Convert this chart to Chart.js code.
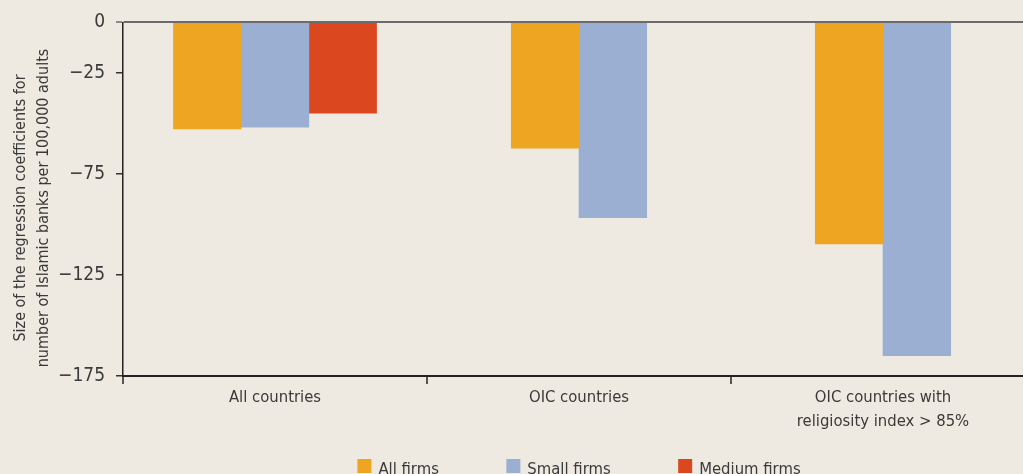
<!DOCTYPE html>
<html>
<head>
<meta charset="utf-8">
<script src="https://cdn.jsdelivr.net/npm/chart.js@4/dist/chart.umd.min.js"></script>
<style>
  html, body { margin: 0; padding: 0; background: #EEEAE1; overflow: hidden; }
  #wrap { position: absolute; left: 0; top: 0; width: 1040px; height: 474px; }
</style>
</head>
<body>
<div id="wrap"><canvas id="c"></canvas></div>
<script>
// ---- data ----
const categories = ['All countries', 'OIC countries', ['OIC countries with', 'religiosity index > 85%']];
const seriesNames = ['All firms', 'Small firms', 'Medium firms'];
const allFirms = [-52.7, -62.2, -109.6];
const smallFirms = [-51.8, -96.7, -164.9];
const mediumFirms = [-44.9, null, null];
const yTicks = [0, -25, -75, -125, -175];
const yTickLabels = ['0', '\u221225', '\u221275', '\u2212125', '\u2212175'];
const yTitle = ['Size of the regression coefficients for', 'number of Islamic banks per 100,000 adults'];

const FONT = "'DejaVu Sans Condensed', 'Liberation Sans Narrow', 'Roboto', sans-serif";
const TEXT = '#3a3a3a';
Chart.defaults.font.family = FONT;
Chart.defaults.color = TEXT;

const overlay = {
  id: 'overlay',
  afterDraw(chart) {
    const ctx = chart.ctx;
    const ca = chart.chartArea;
    ctx.save();
    // y-axis title
    ctx.fillStyle = TEXT;
    ctx.font = "16px " + FONT;
    ctx.textAlign = 'center';
    ctx.textBaseline = 'alphabetic';
    const cy = 208;
    const baselines = [25, 48];
    yTitle.forEach((line, i) => {
      ctx.save();
      ctx.translate(baselines[i], cy);
      ctx.rotate(-Math.PI / 2);
      ctx.fillText(line, 0, 0);
      ctx.restore();
    });
    // legend
    ctx.font = "16.5px " + FONT;
    const ds = chart.data.datasets;
    const box = 14, gapText = 7, gapItem = 67.5;
    const widths = ds.map(d => ctx.measureText(d.label).width);
    let total = 0;
    widths.forEach((w, i) => { total += box + gapText + w + (i < widths.length - 1 ? gapItem : 0); });
    let x = (ca.left + ca.right) / 2 - total / 2;
    ctx.textAlign = 'left';
    ds.forEach((d, i) => {
      ctx.fillStyle = d.backgroundColor;
      ctx.fillRect(x, 459, box, box);
      x += box + gapText;
      ctx.fillStyle = TEXT;
      ctx.fillText(d.label, x, 474);
      x += widths[i] + gapItem;
    });
    ctx.restore();
  }
};

new Chart(document.getElementById('c'), {
  type: 'bar',
  data: {
    labels: categories,
    datasets: [
      { label: seriesNames[0], data: allFirms, backgroundColor: '#EEA521' },
      { label: seriesNames[1], data: smallFirms, backgroundColor: '#9AAFD1' },
      { label: seriesNames[2], data: mediumFirms, backgroundColor: '#DB471F' }
    ]
  },
  options: {
    responsive: true,
    maintainAspectRatio: false,
    animation: false,
    skipNull: true,
    barThickness: 67.7,
    layout: { padding: { top: 22, right: 5, left: 0, bottom: 0 } },
    plugins: { legend: { display: false }, tooltip: { enabled: false } },
    scales: {
      x: {
        offset: true,
        grid: { display: true, drawOnChartArea: false, offset: true, tickLength: 8, color: '#555', lineWidth: 2 },
        border: { display: true, color: '#222', width: 2 },
        ticks: { font: { size: 16.5, lineHeight: '24px' }, color: TEXT, padding: 2, maxRotation: 0, autoSkip: false },
        afterFit(scale) { scale.height = 98; }
      },
      y: {
        min: -175,
        max: 0,
        z: 1,
        afterBuildTicks(scale) { scale.ticks = yTicks.map(v => ({ value: v })); },
        ticks: {
          font: { size: 19 },
          color: TEXT,
          padding: 11,
          callback(value) { const i = yTicks.indexOf(value); return i >= 0 ? yTickLabels[i] : ''; }
        },
        grid: {
          drawOnChartArea: true,
          tickLength: 7,
          color: c => (c.tick && c.tick.value === 0) ? '#6b6b6b' : 'rgba(0,0,0,0)',
          tickColor: c => (c.tick && c.tick.value === 0) ? '#6b6b6b' : '#333',
          lineWidth: c => (c.tick && c.tick.value === 0) ? 2 : 1.5,
          tickWidth: 1.5
        },
        border: { display: true, color: '#222', width: 1.5 },
        title: { display: false },
        afterFit(scale) { scale.width = 123; }
      }
    }
  },
  plugins: [overlay]
});
</script>
</body>
</html>
